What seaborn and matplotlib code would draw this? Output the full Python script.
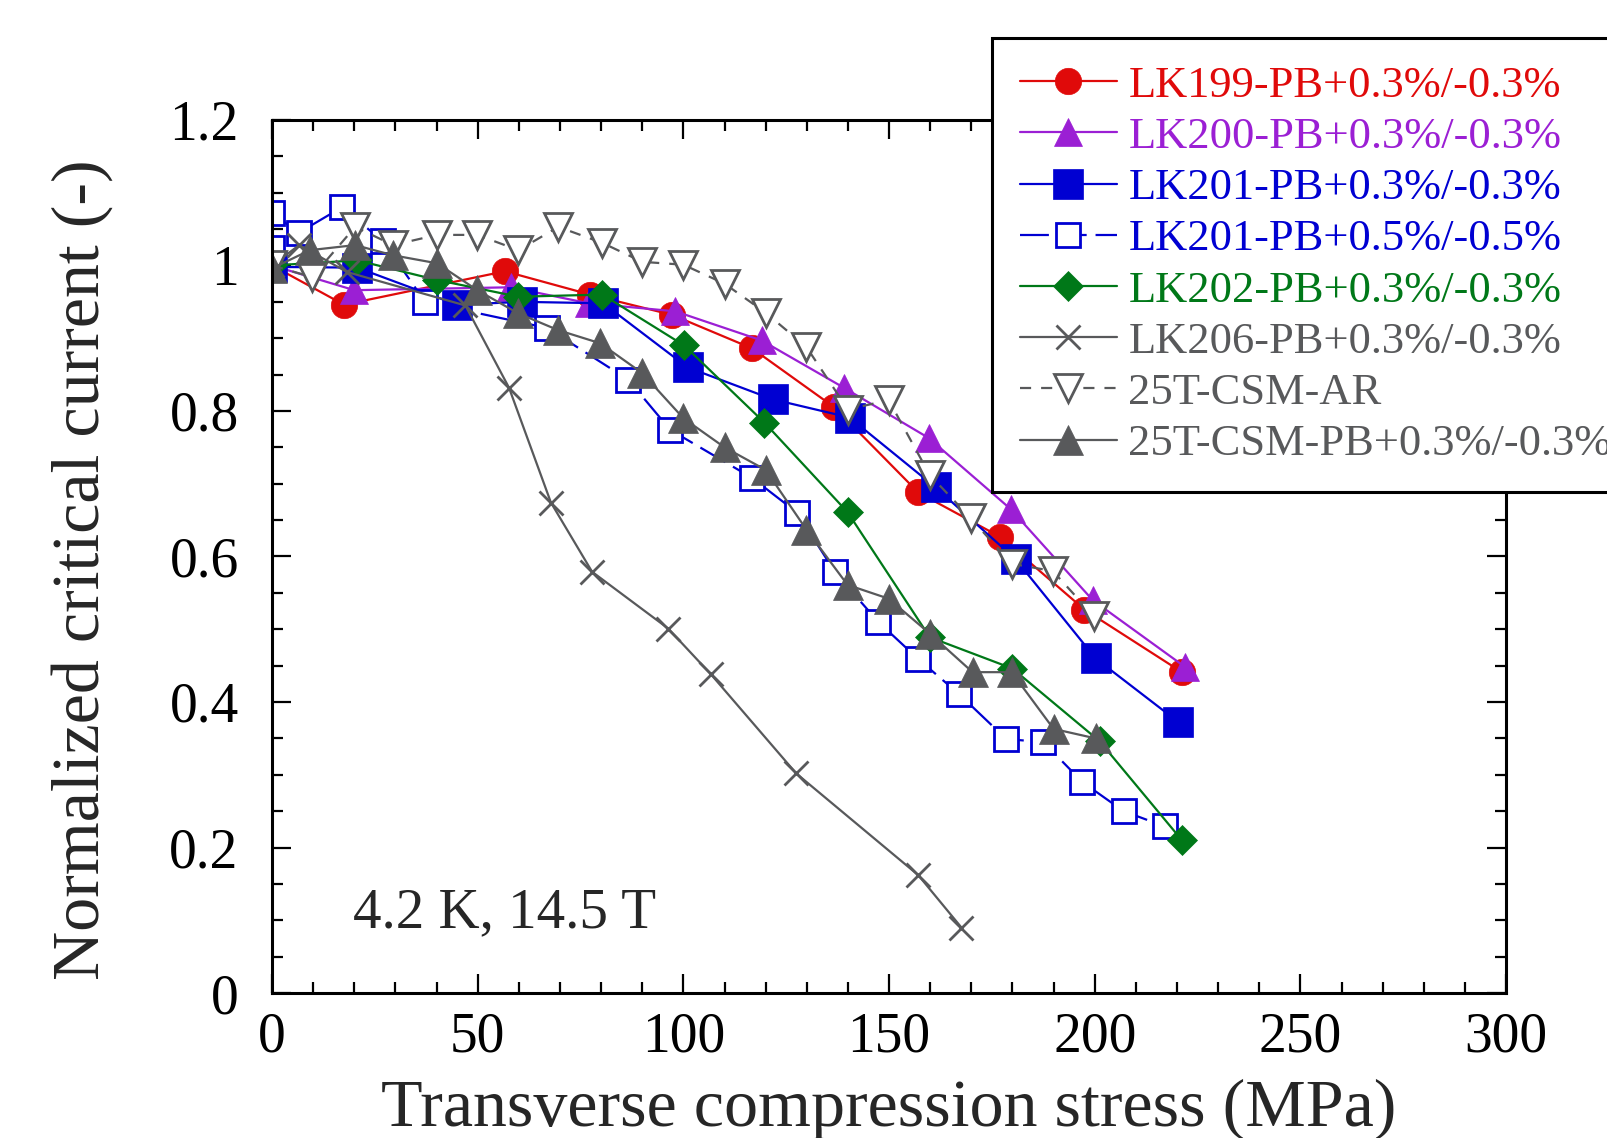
import numpy as np
import pandas as pd
import matplotlib

matplotlib.use("Agg")
import matplotlib.pyplot as plt
import seaborn as sns

# ---- data -----------------------------------------------------------------
lk199_x = [0, 17.5, 56.6, 77.3, 97.3, 116.7, 136.7, 157.1, 177, 197.5, 221.2]
lk199_y = [1.0, 0.946, 0.992, 0.960, 0.932, 0.886, 0.805, 0.688, 0.627, 0.527, 0.441]

lk200_x = [0, 20, 58, 77, 98, 119, 139, 159.6, 179.6, 199.5, 222]
lk200_y = [1.0, 0.966, 0.97, 0.948, 0.937, 0.897, 0.832, 0.763, 0.665, 0.54, 0.448]

lk201_x = [0, 20.7, 45, 60.8, 80.5, 101, 121.7, 140.4, 161.3, 180.8, 200.2, 220.2]
lk201_y = [0.998, 0.997, 0.946, 0.95, 0.948, 0.86, 0.816, 0.791, 0.695, 0.596, 0.46, 0.373]

lk201b_x = [0, 0, 6.5, 17, 27, 37.2, 66.9, 86.6, 96.8, 116.7, 127.7, 136.9,
            147.4, 157.1, 167, 178.5, 187.5, 197, 207, 217]
lk201b_y = [1.024, 1.072, 1.045, 1.08, 1.033, 0.95, 0.914, 0.843, 0.774, 0.708,
            0.66, 0.578, 0.51, 0.459, 0.411, 0.349, 0.345, 0.29, 0.25, 0.229]

lk202_x = [0, 20.7, 40.1, 59.9, 80.3, 100.2, 119.7, 139.9, 159.9, 180, 201.2, 221.2]
lk202_y = [1.0, 1.007, 0.98, 0.957, 0.96, 0.89, 0.784, 0.661, 0.489, 0.446, 0.346, 0.21]

lk206_x = [0, 6.6, 18.2, 47, 57.6, 67.8, 77.8, 96.3, 106.7, 127.4, 157.1, 167.6]
lk206_y = [1.0, 1.028, 0.991, 0.945, 0.832, 0.674, 0.579, 0.501, 0.438, 0.302, 0.162, 0.09]

csm_ar_x = [0, 9.7, 20.2, 29.4, 40.1, 49.9, 59.9, 69.6, 80.3, 90, 100, 110, 120,
            129.9, 140, 149.9, 159.9, 169.8, 179.8, 189.8, 199.8]
csm_ar_y = [1.0, 0.984, 1.053, 1.028, 1.042, 1.042, 1.021, 1.053, 1.031, 1.005,
            1.001, 0.975, 0.935, 0.888, 0.802, 0.815, 0.712, 0.653, 0.59, 0.58, 0.518]

csm_pb_x = [0, 9.2, 20.2, 29.4, 40.1, 49.9, 59.9, 69.6, 79.8, 90, 100, 110, 120,
            129.9, 139.9, 149.9, 159.9, 170.3, 179.8, 190, 200.2]
csm_pb_y = [0.996, 1.021, 1.028, 1.014, 1.003, 0.966, 0.934, 0.911, 0.893, 0.852,
            0.79, 0.75, 0.719, 0.637, 0.561, 0.542, 0.494, 0.441, 0.441, 0.363, 0.35]

labels = [
    "LK199-PB+0.3%/-0.3%",
    "LK200-PB+0.3%/-0.3%",
    "LK201-PB+0.3%/-0.3%",
    "LK201-PB+0.5%/-0.5%",
    "LK202-PB+0.3%/-0.3%",
    "LK206-PB+0.3%/-0.3%",
    "25T-CSM-AR",
    "25T-CSM-PB+0.3%/-0.3%",
]
x_ticks = [0, 50, 100, 150, 200, 250, 300]
y_ticks = [0, 0.2, 0.4, 0.6, 0.8, 1.0, 1.2]
y_ticklabels = ["0", "0.2", "0.4", "0.6", "0.8", "1", "1.2"]
note = "4.2 K, 14.5 T"

RED, PURPLE, BLUE, GREEN, GREY = "#e00a0a", "#9b1fd4", "#0000d2", "#007818", "#58595b"

# (x, y, color, marker, markersize, open?, linestyle)
series = [
    (lk199_x, lk199_y, RED, "o", 19, False, "-"),
    (lk200_x, lk200_y, PURPLE, "^", 20, False, "-"),
    (lk201_x, lk201_y, BLUE, "s", 21, False, "-"),
    (lk201b_x, lk201b_y, BLUE, "s", 17, True, (0, (13, 4))),
    (lk202_x, lk202_y, GREEN, "D", 15, False, "-"),
    (lk206_x, lk206_y, GREY, "x", 17, False, "-"),
    (csm_ar_x, csm_ar_y, GREY, "v", 20, True, (0, (5, 4.5))),
    (csm_pb_x, csm_pb_y, GREY, "^", 21, False, "-"),
]

sns.set_style("ticks")
plt.rcParams["font.family"] = ["Liberation Serif", "DejaVu Serif"]

fig = plt.figure(figsize=(16.08, 11.38), dpi=100)
ax = fig.add_axes([0.1692, 0.1274, 0.7674, 0.7672])

for (xs, ys, color, marker, ms, hollow, ls), label in zip(series, labels):
    df = pd.DataFrame({"x": xs, "y": ys})
    sns.lineplot(
        data=df, x="x", y="y", ax=ax, sort=False, estimator=None,
        color=color, linewidth=1.6, linestyle=ls,
        marker=marker, markersize=ms,
        markerfacecolor="white" if hollow else color,
        markeredgecolor=color,
        markeredgewidth=2.0 if (hollow or marker == "x") else 0.5,
        label=label,
    )

ax.set_xlim(0, 300)
ax.set_ylim(0, 1.2)
ax.set_xticks(x_ticks)
ax.set_xticklabels([str(t) for t in x_ticks])
ax.set_yticks(y_ticks)
ax.set_yticklabels(y_ticklabels)
ax.set_xticks(np.arange(0, 301, 10), minor=True)
ax.set_yticks(np.arange(0, 1.201, 0.05), minor=True)

ax.tick_params(which="both", direction="in", top=True, right=True,
               width=1.6, colors="black")
ax.tick_params(which="major", length=14, labelsize=40)
ax.tick_params(which="minor", length=8)
ax.tick_params(axis="x", which="major", pad=13)
ax.tick_params(axis="y", which="major", pad=24)
for sp in ax.spines.values():
    sp.set_linewidth(2.2)
    sp.set_color("black")

ax.set_xlabel("Transverse compression stress (MPa)", fontsize=49)
ax.set_ylabel("Normalized critical current (-)", fontsize=49)
ax.xaxis.set_label_coords(0.5, -0.098)
ax.yaxis.set_label_coords(-0.1290, 0.4845)

ax.text(19.7, 0.091, note, fontsize=41, ha="left", va="baseline")

leg = ax.legend(
    loc="upper left", bbox_to_anchor=(992 / 1608, 1 - 38 / 1138),
    bbox_transform=fig.transFigure, fontsize=32, frameon=True,
    fancybox=False, framealpha=1, edgecolor="black",
    handlelength=2.2, handletextpad=0.25, labelspacing=0.25,
    borderpad=0.62, borderaxespad=0,
)
leg.get_frame().set_linewidth(2.2)
for text, (_, _, color, *_rest) in zip(leg.get_texts(), series):
    text.set_color(color)

fig.savefig("out.png", dpi=100)
plt.close(fig)
